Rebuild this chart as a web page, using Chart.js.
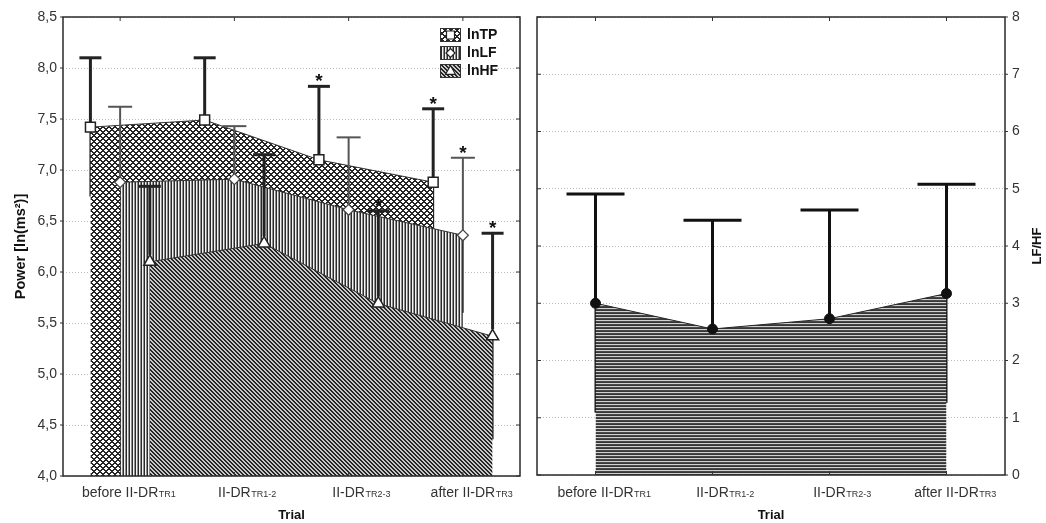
<!DOCTYPE html>
<html><head><meta charset="utf-8">
<script src="https://cdn.jsdelivr.net/npm/chart.js@4.4.1/dist/chart.umd.min.js"></script>
<style>
html,body{margin:0;padding:0;background:#fff;}
#wrap{position:relative;width:1046px;height:523px;overflow:hidden;}
#c1{position:absolute;left:0;top:0;}
#c2{position:absolute;left:525px;top:0;}
</style></head><body>
<div id="wrap"><canvas id="c1" width="530" height="523"></canvas><canvas id="c2" width="521" height="523"></canvas></div>
<script>
// ---------------- data ----------------
const categories = ['before II-DR', 'II-DR', 'II-DR', 'after II-DR'];
const categorySubs = ['TR1', 'TR1-2', 'TR2-3', 'TR3'];
const seriesNames = ['lnTP', 'lnLF', 'lnHF'];
const lnTP = [7.42, 7.49, 7.10, 6.88];
const lnTPErr = [0.68, 0.61, 0.72, 0.72];
const lnTPSig = [false, false, true, true];
const lnLF = [6.88, 6.91, 6.61, 6.36];
const lnLFErr = [0.74, 0.52, 0.71, 0.76];
const lnLFSig = [false, false, false, true];
const lnHF = [6.10, 6.28, 5.69, 5.37];
const lnHFErr = [0.74, 0.87, 0.91, 1.01];
const lnHFSig = [false, false, true, true];
const lfhf = [3.00, 2.55, 2.73, 3.17];
const lfhfErr = [1.91, 1.90, 1.90, 1.91];
const lfhfSig = [false, false, false, false];
const leftYTicks = ['4,0','4,5','5,0','5,5','6,0','6,5','7,0','7,5','8,0','8,5'];
const rightYTicks = ['0','1','2','3','4','5','6','7','8'];
const leftYTitle = 'Power [ln(ms²)]';
const rightYTitle = 'LF/HF';
const xTitle = 'Trial';

// ---------------- styling ----------------
const FONT = "'Liberation Sans', Arial, sans-serif";
const OFFSETS = [-0.26, 0, 0.26];
Chart.defaults.font.family = FONT;

function pixelPattern(ctx, w, h, fn) {
  const c = document.createElement('canvas'); c.width = w; c.height = h;
  const g = c.getContext('2d');
  for (let y = 0; y < h; y++) for (let x = 0; x < w; x++) { g.fillStyle = fn(x, y); g.fillRect(x, y, 1, 1); }
  return ctx.createPattern(c, 'repeat');
}
const ctx1 = document.getElementById('c1').getContext('2d');
const ctx2 = document.getElementById('c2').getContext('2d');
const patTP = pixelPattern(ctx1, 6, 6, (x, y) => (((x - y) % 6 + 6) % 6 <= 1 || (x + y) % 6 <= 1) ? '#262626' : '#ffffff');
const patLF = pixelPattern(ctx1, 3, 1, (x) => x === 0 ? '#2a2a2a' : (x === 1 ? '#f4f4f4' : '#8e8e8e'));
const patHF = pixelPattern(ctx1, 4, 4, (x, y) => (((x - y) % 4 + 4) % 4 <= 1) ? '#262626' : '#c8c8c8');
const patH = pixelPattern(ctx2, 1, 3, (x, y) => y === 0 ? '#484848' : (y === 1 ? '#363636' : '#d0d0d0'));

function pts(vals, off) { return vals.map((v, i) => ({ x: i + 1 + off, y: v })); }

// --------------- plugins ---------------
function line(c, x0, y0, x1, y1, w, col) {
  c.save(); c.strokeStyle = col; c.lineWidth = w; c.lineCap = 'butt';
  c.beginPath(); c.moveTo(x0, y0); c.lineTo(x1, y1); c.stroke(); c.restore();
}
const whiskers = {
  id: 'whiskers',
  beforeDatasetsDraw(chart) {
    const c = chart.ctx, ys = chart.scales.y;
    chart.data.datasets.forEach((ds, di) => {
      const meta = chart.getDatasetMeta(di);
      meta.data.forEach((el, i) => {
        const yb = ys.getPixelForValue(ds.data[i].y - ds.err[i]);
        line(c, el.x, el.y, el.x, yb, ds.es.low, ds.es.color);
      });
    });
  },
  afterDatasetDraw(chart, args) {
    const c = chart.ctx, ys = chart.scales.y;
    const ds = chart.data.datasets[args.index];
    const meta = chart.getDatasetMeta(args.index);
    meta.data.forEach((el, i) => {
      const yt = ys.getPixelForValue(ds.data[i].y + ds.err[i]);
      line(c, el.x, el.y - ds.es.r, el.x, yt, ds.es.width, ds.es.color);
      line(c, el.x - ds.es.cap, yt, el.x + ds.es.cap, yt, ds.es.width, ds.es.color);
      if (ds.sig[i]) {
        c.save(); c.fillStyle = '#111'; c.font = 'bold 19px ' + FONT; c.textAlign = 'center'; c.textBaseline = 'alphabetic';
        c.fillText('*', el.x, yt + 1); c.restore();
      }
    });
  }
};

function drawXLabels(chart) {
  const c = chart.ctx, xs = chart.scales.x;
  c.save(); c.fillStyle = '#333'; c.textBaseline = 'alphabetic';
  categories.forEach((lab, i) => {
    const cx = xs.getPixelForValue(i + 1);
    c.font = '14px ' + FONT;
    const w = c.measureText(lab).width;
    c.textAlign = 'left';
    c.fillText(lab, cx - w / 2, 497);
    c.font = '9px ' + FONT;
    c.fillText(categorySubs[i], cx + w / 2 + 0.5, 497);
  });
  c.font = 'bold 13px ' + FONT; c.textAlign = 'center'; c.textBaseline = 'middle'; c.fillStyle = '#111';
  c.fillText(xTitle, (chart.chartArea.left + chart.chartArea.right) / 2, 515);
  c.restore();
}
function drawFrame(chart, outerSide) {
  const c = chart.ctx, a = chart.chartArea, ys = chart.scales.y, xs = chart.scales.x;
  c.save(); c.strokeStyle = '#2a2a2a'; c.lineWidth = 1.5;
  c.strokeRect(a.left, a.top, a.right - a.left, a.bottom - a.top);
  ys.ticks.forEach(t => {
    const y = ys.getPixelForValue(t.value);
    if (outerSide === 'left') { line(c, a.left - 3, y, a.left, y, 1, '#333'); line(c, a.right - 4, y, a.right, y, 1, '#333'); }
    else { line(c, a.right, y, a.right + 3, y, 1, '#333'); line(c, a.left, y, a.left + 4, y, 1, '#333'); }
  });
  for (let i = 1; i <= categories.length; i++) {
    const x = xs.getPixelForValue(i);
    line(c, x, a.top, x, a.top + 4, 1, '#333');
    line(c, x, a.bottom - 4, x, a.bottom, 1, '#333');
  }
  c.restore();
}
function drawVTitle(chart, text, x, font) {
  const c = chart.ctx, a = chart.chartArea;
  c.save(); c.translate(x, (a.top + a.bottom) / 2); c.rotate(-Math.PI / 2);
  c.font = font; c.fillStyle = '#111'; c.textAlign = 'center'; c.textBaseline = 'middle';
  c.fillText(text, 0, 0); c.restore();
}
function drawMarker(c, style, x, y, r) {
  c.save(); c.fillStyle = '#fff'; c.strokeStyle = '#222'; c.lineWidth = 1.2; c.beginPath();
  if (style === 'rect') { c.rect(x - r, y - r, 2 * r, 2 * r); }
  else if (style === 'rectRot') { c.moveTo(x, y - r); c.lineTo(x + r, y); c.lineTo(x, y + r); c.lineTo(x - r, y); c.closePath(); }
  else { c.moveTo(x, y - r); c.lineTo(x + r * 0.9, y + r * 0.6); c.lineTo(x - r * 0.9, y + r * 0.6); c.closePath(); }
  c.fill(); c.stroke(); c.restore();
}

const leftDeco = {
  id: 'leftDeco',
  afterDraw(chart) {
    drawFrame(chart, 'left');
    drawXLabels(chart);
    drawVTitle(chart, leftYTitle, 21, 'bold 14.5px ' + FONT);
    // legend
    const c = chart.ctx;
    const pats = [patTP, patLF, patHF], styles = ['rect', 'rectRot', 'triangle'], rs = [4, 4.5, 5.5];
    seriesNames.forEach((name, i) => {
      const bx = 440, by = 28 + i * 18, bw = 21, bh = 14;
      c.save(); c.fillStyle = pats[i]; c.fillRect(bx, by, bw, bh);
      c.strokeStyle = '#333'; c.lineWidth = 1; c.strokeRect(bx + 0.5, by + 0.5, bw - 1, bh - 1); c.restore();
      drawMarker(c, styles[i], bx + bw / 2, by + bh / 2, rs[i]);
      c.save(); c.font = 'bold 14px ' + FONT; c.fillStyle = '#111'; c.textAlign = 'left'; c.textBaseline = 'middle';
      c.fillText(name, 467, by + bh / 2 + 0.5); c.restore();
    });
  }
};
const rightDeco = {
  id: 'rightDeco',
  afterDraw(chart) {
    drawFrame(chart, 'right');
    drawXLabels(chart);
    drawVTitle(chart, rightYTitle, 512, 'bold 13px ' + FONT);
  }
};

const gridY = { color: '#bdbdbd', drawTicks: false, lineWidth: 1 };
const xScale = (h) => ({ type: 'linear', min: 0.5, max: 4.5, ticks: { display: false }, grid: { display: false }, border: { display: false }, afterFit: s => { s.height = h; } });

new Chart(ctx1, {
  type: 'line',
  data: {
    datasets: [
      { label: seriesNames[0], data: pts(lnTP, OFFSETS[0]), err: lnTPErr, sig: lnTPSig, order: 3,
        fill: 'start', backgroundColor: patTP, borderColor: '#333', borderWidth: 1, tension: 0,
        pointStyle: 'rect', pointRadius: 7, pointBackgroundColor: '#fff', pointBorderColor: '#222', pointBorderWidth: 1.5,
        es: { color: '#222', width: 3, low: 2, cap: 11, r: 5 } },
      { label: seriesNames[1], data: pts(lnLF, OFFSETS[1]), err: lnLFErr, sig: lnLFSig, order: 2,
        fill: 'start', backgroundColor: patLF, borderColor: '#333', borderWidth: 1, tension: 0,
        pointStyle: 'rectRot', pointRadius: 5.5, pointBackgroundColor: '#fff', pointBorderColor: '#444', pointBorderWidth: 1.2,
        es: { color: '#555', width: 2, low: 2, cap: 12, r: 5 } },
      { label: seriesNames[2], data: pts(lnHF, OFFSETS[2]), err: lnHFErr, sig: lnHFSig, order: 1,
        fill: 'start', backgroundColor: patHF, borderColor: '#333', borderWidth: 1, tension: 0,
        pointStyle: 'triangle', pointRadius: 7, pointBackgroundColor: '#fff', pointBorderColor: '#222', pointBorderWidth: 1.5,
        es: { color: '#222', width: 3, low: 2, cap: 11, r: 7 } }
    ]
  },
  options: {
    responsive: false, animation: false, devicePixelRatio: 1,
    layout: { padding: { left: 0, right: 10, top: 17, bottom: 0 } },
    plugins: { legend: { display: false }, tooltip: { enabled: false } },
    scales: {
      x: xScale(47),
      y: { type: 'linear', min: 4, max: 8.5,
        ticks: { stepSize: 0.5, callback: (v, i) => leftYTicks[i], font: { size: 14 }, color: '#333', padding: 6 },
        grid: gridY, border: { display: false, dash: [1, 2] }, afterFit: s => { s.width = 63; } }
    }
  },
  plugins: [whiskers, leftDeco]
});

new Chart(ctx2, {
  type: 'line',
  data: {
    datasets: [
      { label: rightYTitle, data: pts(lfhf, 0), err: lfhfErr, sig: lfhfSig,
        fill: 'start', backgroundColor: patH, borderColor: '#222', borderWidth: 1, tension: 0,
        pointStyle: 'circle', pointRadius: 5, pointBackgroundColor: '#111', pointBorderColor: '#111', pointBorderWidth: 1,
        es: { color: '#111', width: 3, low: 2, cap: 29, r: 0 } }
    ]
  },
  options: {
    responsive: false, animation: false, devicePixelRatio: 1,
    layout: { padding: { left: 12, right: 0, top: 17, bottom: 0 } },
    plugins: { legend: { display: false }, tooltip: { enabled: false } },
    scales: {
      x: xScale(48),
      y: { type: 'linear', position: 'right', min: 0, max: 8,
        ticks: { stepSize: 1, callback: (v, i) => rightYTicks[i], font: { size: 14 }, color: '#333', padding: 7 },
        grid: gridY, border: { display: false, dash: [1, 2] }, afterFit: s => { s.width = 41; } }
    }
  },
  plugins: [whiskers, rightDeco]
});
</script>
</body></html>
